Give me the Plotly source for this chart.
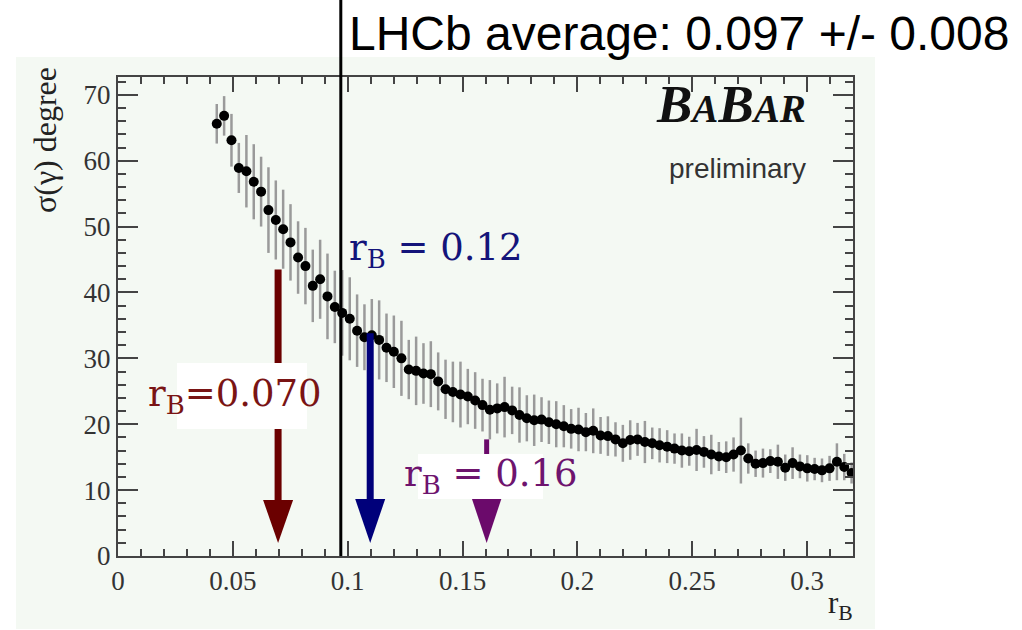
import plotly.graph_objects as go

# ---------------- data ----------------
r_b = [0.0430, 0.0462, 0.0494, 0.0526, 0.0559, 0.0591, 0.0623, 0.0655, 0.0687, 0.0719,
       0.0751, 0.0784, 0.0816, 0.0848, 0.0880, 0.0912, 0.0944, 0.0976, 0.1009, 0.1041,
       0.1073, 0.1105, 0.1137, 0.1169, 0.1201, 0.1234, 0.1266, 0.1298, 0.1330, 0.1362,
       0.1394, 0.1426, 0.1458, 0.1491, 0.1523, 0.1555, 0.1587, 0.1619, 0.1651, 0.1683,
       0.1716, 0.1748, 0.1780, 0.1812, 0.1844, 0.1876, 0.1908, 0.1941, 0.1973, 0.2005,
       0.2037, 0.2069, 0.2101, 0.2133, 0.2166, 0.2198, 0.2230, 0.2262, 0.2294, 0.2326,
       0.2358, 0.2391, 0.2423, 0.2455, 0.2487, 0.2519, 0.2551, 0.2583, 0.2616, 0.2648,
       0.2680, 0.2712, 0.2744, 0.2776, 0.2808, 0.2840, 0.2873, 0.2905, 0.2937, 0.2969,
       0.3001, 0.3033, 0.3065, 0.3098, 0.3130, 0.3162, 0.3194]

sigma_gamma = [65.6, 66.8, 63.1, 58.9, 58.4, 56.8, 55.3, 52.5, 51.0, 49.6,
               47.6, 45.3, 44.0, 41.0, 42.0, 39.4, 37.8, 36.9, 36.0, 34.2,
               33.2, 33.5, 32.8, 31.6, 31.0, 30.0, 28.3, 28.1, 27.7, 27.6,
               26.5, 25.3, 24.9, 24.5, 24.2, 23.6, 22.9, 22.2, 22.4, 22.6,
               22.1, 21.4, 20.9, 20.6, 20.7, 20.3, 20.0, 19.7, 19.3, 19.2,
               18.8, 19.0, 18.3, 18.2, 17.7, 17.1, 17.6, 17.7, 17.3, 17.1,
               16.8, 16.6, 16.3, 16.0, 15.9, 16.1, 15.8, 15.4, 15.1, 15.0,
               15.4, 16.0, 14.8, 14.0, 14.1, 14.4, 14.3, 13.4, 14.1, 13.6,
               13.3, 13.2, 13.0, 13.3, 14.3, 13.5, 12.6]

sigma_err = [3.0, 3.0, 4.0, 3.8, 5.5, 5.7, 5.3, 6.5, 6.0, 6.0,
             5.8, 5.5, 5.8, 5.5, 6.0, 6.5, 5.5, 6.5, 6.3, 5.5,
             5.0, 5.5, 6.0, 5.2, 5.5, 5.7, 4.5, 5.2, 4.6, 5.0,
             4.4, 4.5, 4.6, 5.0, 4.2, 4.3, 4.0, 4.5, 3.8, 4.6,
             3.6, 4.2, 3.5, 3.9, 3.4, 3.3, 3.5, 3.2, 3.0, 3.3,
             2.9, 3.4, 2.8, 3.0, 2.6, 2.8, 3.0, 2.5, 3.2, 2.4,
             2.6, 2.5, 2.3, 2.6, 2.2, 3.2, 2.4, 3.0, 2.2, 2.4,
             2.6, 5.0, 2.3, 2.0, 2.2, 1.8, 2.6, 2.0, 2.4, 1.8,
             2.0, 1.7, 1.8, 1.9, 2.8, 2.0, 1.6]

x_ticks = [0, 0.05, 0.1, 0.15, 0.2, 0.25, 0.3]
x_tick_labels = ["0", "0.05", "0.1", "0.15", "0.2", "0.25", "0.3"]
y_ticks = [0, 10, 20, 30, 40, 50, 60, 70]

lhcb_avg = 0.097
lhcb_text = "LHCb average: 0.097 +/- 0.008"

# reference arrows: x position, top of arrow (degree), label
arrow_x = [0.0697, 0.1098, 0.1605]
arrow_top = [43.5, 33.8, 17.7]
arrow_labels = ["r<sub>B</sub>=0.070", "r<sub>B</sub> = 0.12", "r<sub>B</sub> = 0.16"]
arrow_colors = ["#6b0000", "#00007a", "#6b0a6b"]
label_colors = ["#7a1414", "#14147a", "#6e146e"]

# ---------------- layout geometry ----------------
W, H = 1022, 630
L, R, T, B = 118, 169, 77, 74
PW, PH = W - L - R, H - T - B
XMAX, YMAX = 0.32, 72.7

def px(xp):  # pixel -> paper x
    return (xp - L) / PW

def py(yp):  # pixel -> paper y
    return (H - B - yp) / PH

def dx(pix):  # pixel length -> data x
    return pix * XMAX / PW

def dy(pix):  # pixel length -> data y
    return pix * YMAX / PH

BG = "#f4f9f3"
AX = "#444444"

fig = go.Figure()
fig.add_trace(go.Scatter(
    x=r_b, y=sigma_gamma, mode="markers",
    marker=dict(color="black", size=10),
    error_y=dict(type="data", array=sigma_err, color="#9a9a9a", thickness=2.5, width=0),
    showlegend=False, hoverinfo="skip"))

shapes = []
# light green panel
shapes.append(dict(type="rect", xref="paper", yref="paper", layer="below",
                   x0=px(16), x1=px(875), y0=py(629), y1=py(57),
                   fillcolor=BG, line=dict(width=0)))

annotations = []
head_h = [dy(43), dy(44), dy(45)]
head_w = dx(15)
shaft_w = [7, 7, 5]
for i in range(3):
    xa = arrow_x[i]
    tip = dy(13)
    base = tip + head_h[i]
    shapes.append(dict(type="line", xref="x", yref="y", x0=xa, x1=xa,
                       y0=base - dy(2), y1=arrow_top[i],
                       line=dict(color=arrow_colors[i], width=shaft_w[i])))
    shapes.append(dict(type="path", xref="x", yref="y",
                       path=f"M {xa - head_w},{base} L {xa + head_w},{base} L {xa},{tip} Z",
                       fillcolor=arrow_colors[i], line=dict(width=0)))

# white label boxes (red and purple)
shapes.append(dict(type="rect", xref="paper", yref="paper",
                   x0=px(177), x1=px(307), y0=py(429), y1=py(363),
                   fillcolor="white", line=dict(width=0)))
shapes.append(dict(type="rect", xref="paper", yref="paper",
                   x0=px(418), x1=px(543), y0=py(499), y1=py(454),
                   fillcolor="white", line=dict(width=0)))

# LHCb vertical line
shapes.append(dict(type="line", xref="x", yref="paper", x0=lhcb_avg, x1=lhcb_avg,
                   y0=0, y1=py(0), line=dict(color="black", width=3), layer="above"))

label_pos = [(235, 396), (436, 250), (491, 476)]
for i in range(3):
    annotations.append(dict(xref="paper", yref="paper", x=px(label_pos[i][0]), y=py(label_pos[i][1]),
                            text=arrow_labels[i], showarrow=False, xanchor="center", yanchor="middle",
                            font=dict(family="DejaVu Serif", size=37, color=label_colors[i])))

annotations.append(dict(xref="paper", yref="paper", x=px(347), y=py(33), text=lhcb_text,
                        showarrow=False, xanchor="left", yanchor="middle",
                        font=dict(family="Liberation Sans", size=48, color="black")))

annotations.append(dict(xref="paper", yref="paper", x=px(808), y=py(104),
                        text="<b><i>B<span style='font-size:39px'>A</span>B<span style='font-size:39px'>AR</span></i></b>",
                        showarrow=False, xanchor="right", yanchor="middle",
                        font=dict(family="Liberation Serif", size=53, color="#111111")))
annotations.append(dict(xref="paper", yref="paper", x=px(808), y=py(168), text="preliminary",
                        showarrow=False, xanchor="right", yanchor="middle",
                        font=dict(family="Liberation Sans", size=28, color="#333333")))

# axis titles
annotations.append(dict(xref="paper", yref="paper", x=px(45), y=py(140), text="σ(γ) degree",
                        showarrow=False, textangle=-90, xanchor="center", yanchor="middle",
                        font=dict(family="Liberation Serif", size=32, color="#222222")))
annotations.append(dict(xref="paper", yref="paper", x=px(855), y=py(605), text="r<sub>B</sub>",
                        showarrow=False, xanchor="right", yanchor="middle",
                        font=dict(family="Liberation Serif", size=31, color="#222222")))

axis_common = dict(showline=True, linecolor=AX, linewidth=2, mirror="allticks",
                   ticks="inside", tickcolor=AX, tickwidth=1.5, showgrid=False, zeroline=False,
                   tickfont=dict(family="Liberation Serif", size=27, color="#333333"))

fig.update_layout(
    width=W, height=H, margin=dict(l=L, r=R, t=T, b=B, pad=0),
    paper_bgcolor="white", plot_bgcolor=BG,
    shapes=shapes, annotations=annotations,
    xaxis=dict(range=[0, XMAX], tickvals=x_ticks, ticktext=x_tick_labels, ticklen=15,
               minor=dict(dtick=0.01, ticks="inside", ticklen=7, tickcolor=AX, tickwidth=1.5),
               **axis_common),
    yaxis=dict(range=[0, YMAX], tickvals=y_ticks, ticklen=20,
               minor=dict(dtick=2, ticks="inside", ticklen=8, tickcolor=AX, tickwidth=1.5),
               **axis_common),
)

fig.write_html("out.html")
